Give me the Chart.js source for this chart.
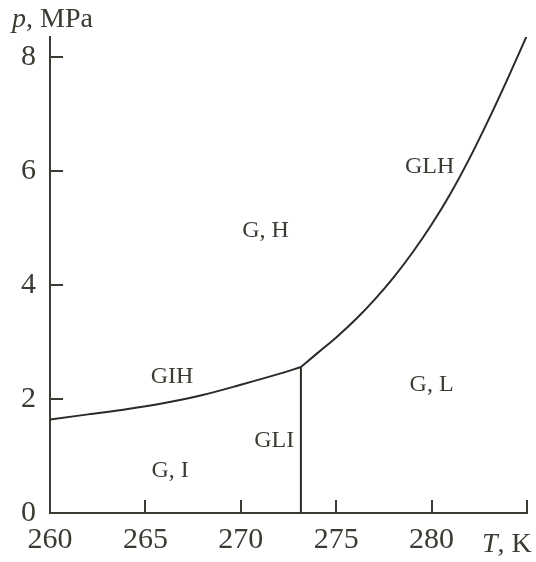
<!DOCTYPE html>
<html>
<head>
<meta charset="utf-8">
<script src="https://cdn.jsdelivr.net/npm/chart.js@4"></script>
<style>
  html, body { margin: 0; padding: 0; background: #fff; }
  #wrap { width: 536px; height: 562px; }
</style>
</head>
<body>
<div id="wrap"><canvas id="phase" width="536" height="562"></canvas></div>
<script>
// data
var xTicks = [260, 265, 270, 275, 280, 285];
var yTicks = [0, 2, 4, 6, 8];

// GIH line (gas - ice - hydrate)
var gihT = [260, 262, 264, 266, 268, 270, 272, 273.15];
var gihP = [1.64, 1.73, 1.82, 1.93, 2.07, 2.25, 2.44, 2.56];

// GLH line (gas - liquid - hydrate)
var glhT = [273.15, 274, 275, 276, 277, 278, 279, 280, 281, 282, 283, 284, 285];
var glhP = [2.56, 2.80, 3.08, 3.39, 3.74, 4.13, 4.57, 5.06, 5.61, 6.23, 6.91, 7.63, 8.38];

// GLI line (ice melting)
var gliT = [273.15, 273.15];
var gliP = [0, 2.56];

// region labels
var regionText = ['G, H', 'GLH', 'GIH', 'G, L', 'GLI', 'G, I'];
var regionT = [271.3, 279.9, 266.4, 280.0, 271.75, 266.3];
var regionP = [4.96, 6.07, 2.39, 2.25, 1.26, 0.75];

var ink = '#3b3b33';
var lineInk = '#2b2b25';
var serif = '"Liberation Serif", "DejaVu Serif", serif';

function pts(xs, ys) {
  return xs.map(function (x, i) { return {x: x, y: ys[i]}; });
}

function lineSet(xs, ys) {
  return {
    data: pts(xs, ys),
    showLine: true,
    borderColor: lineInk,
    borderWidth: 2,
    pointRadius: 0,
    cubicInterpolationMode: 'monotone',
    fill: false
  };
}

// inward ticks, region labels, axis titles
var extras = {
  id: 'extras',
  afterDraw: function (chart) {
    var ctx = chart.ctx;
    var xs = chart.scales.x, ys = chart.scales.y;
    var area = chart.chartArea;
    ctx.save();
    ctx.strokeStyle = ink;
    ctx.lineWidth = 2;
    xTicks.forEach(function (v) {
      if (v === xs.min) return;
      var px = Math.round(xs.getPixelForValue(v));
      ctx.beginPath();
      ctx.moveTo(px, area.bottom);
      ctx.lineTo(px, area.bottom - 13);
      ctx.stroke();
    });
    yTicks.forEach(function (v) {
      if (v === ys.min) return;
      var py = Math.round(ys.getPixelForValue(v));
      ctx.beginPath();
      ctx.moveTo(area.left, py);
      ctx.lineTo(area.left + 13, py);
      ctx.stroke();
    });

    ctx.fillStyle = ink;
    ctx.textAlign = 'center';
    ctx.textBaseline = 'middle';
    ctx.font = '24px ' + serif;
    regionText.forEach(function (t, i) {
      ctx.fillText(t, xs.getPixelForValue(regionT[i]), ys.getPixelForValue(regionP[i]));
    });

    // axis titles: italic symbol + upright unit
    ctx.textAlign = 'left';
    ctx.textBaseline = 'alphabetic';
    ctx.font = 'italic 28px ' + serif;
    ctx.fillText('p', 12, 27);
    var w = ctx.measureText('p').width;
    ctx.font = '28px ' + serif;
    ctx.fillText(', MPa', 12 + w, 27);

    ctx.font = 'italic 28px ' + serif;
    ctx.fillText('T', 482, 552);
    w = ctx.measureText('T').width;
    ctx.font = '28px ' + serif;
    ctx.fillText(', K', 482 + w, 552);
    ctx.restore();
  }
};

var chart = new Chart(document.getElementById('phase'), {
  type: 'scatter',
  data: {
    datasets: [lineSet(gihT, gihP), lineSet(glhT, glhP), lineSet(gliT, gliP)]
  },
  options: {
    responsive: false,
    animation: false,
    layout: { padding: { top: 37, right: 8, left: 0, bottom: 0 } },
    plugins: { legend: { display: false }, tooltip: { enabled: false } },
    scales: {
      x: {
        type: 'linear',
        min: 260,
        max: 285,
        afterBuildTicks: function (s) { s.ticks = xTicks.map(function (v) { return {value: v}; }); },
        afterFit: function (s) { s.height = 49; },
        grid: { display: false, drawTicks: false },
        border: { display: true, color: ink, width: 2 },
        ticks: {
          color: ink,
          padding: 9,
          maxRotation: 0,
          font: { family: serif, size: 30 },
          callback: function (v) { return v === 285 ? '' : v; }
        }
      },
      y: {
        type: 'linear',
        min: 0,
        max: 8.35,
        afterBuildTicks: function (s) { s.ticks = yTicks.map(function (v) { return {value: v}; }); },
        afterFit: function (s) { s.width = 50; },
        grid: { display: false, drawTicks: false },
        border: { display: true, color: ink, width: 2 },
        ticks: {
          color: ink,
          padding: 14,
          font: { family: serif, size: 30 }
        }
      }
    }
  },
  plugins: [extras]
});
</script>
</body>
</html>
